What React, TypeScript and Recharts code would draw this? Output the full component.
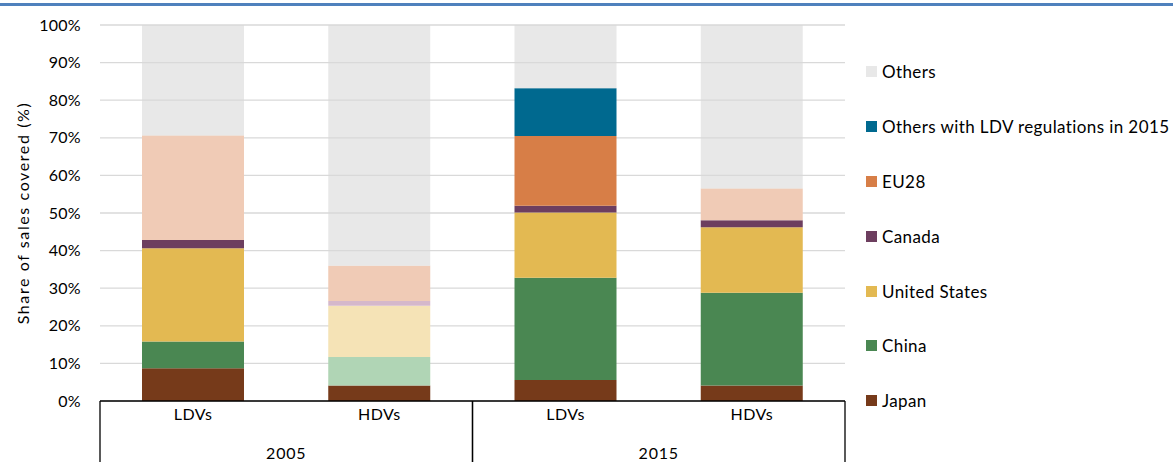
import React from "react";
import { Bar, BarChart, CartesianGrid, Cell, Legend, XAxis, YAxis } from "recharts";

const categories = ["LDVs", "HDVs", "LDVs", "HDVs"];
const years = ["2005", "2005", "2015", "2015"];

// share of sales covered (%), per bar
const japan = [8.7, 4.1, 5.6, 4.1];
const china = [7.1, 7.6, 27.2, 24.7];
const unitedStates = [24.8, 13.6, 17.3, 17.4];
const canada = [2.2, 1.3, 1.8, 1.9];
const eu28 = [27.8, 9.4, 18.6, 8.4];
const othersLdv = [0, 0, 12.7, 0];
const others = [29.4, 64.0, 16.8, 43.5];

const yTicks = [0, 10, 20, 30, 40, 50, 60, 70, 80, 90, 100];

const series = [
  { key: "japan", name: "Japan", values: japan, color: "#763A1A", faded: "#763A1A" },
  { key: "china", name: "China", values: china, color: "#4A8752", faded: "#B0D5B5" },
  { key: "us", name: "United States", values: unitedStates, color: "#E3B952", faded: "#F5E3B6" },
  { key: "canada", name: "Canada", values: canada, color: "#6D3E5F", faded: "#D5B8CB" },
  { key: "eu28", name: "EU28", values: eu28, color: "#D77E47", faded: "#F0CBB6" },
  { key: "othersLdv", name: "Others with LDV regulations in 2015", values: othersLdv, color: "#00698F", faded: "#00698F" },
  { key: "others", name: "Others", values: others, color: "#D9D9D9", faded: "#D9D9D9" },
];

// which bars (by index) are drawn in the lighter tint
const fadedBars: Record<string, number[]> = {
  china: [1],
  us: [1],
  canada: [1],
  eu28: [0, 1, 3],
};

const data = categories.map((type, i) => {
  const row: Record<string, string | number> = { type, year: years[i] };
  series.forEach((s) => {
    row[s.key] = s.values[i];
  });
  return row;
});

const FONT = "Lato, 'Noto Sans', sans-serif";
const CHART_W = 1173;
const CHART_H = 480;
const PLOT_LEFT = 100;
const PLOT_RIGHT = 845;
const PLOT_BOTTOM = 401;
const HALF_YEAR = (PLOT_RIGHT - PLOT_LEFT) / 4;

const YearTick = (props: any) => {
  const { x, y, payload } = props;
  return (
    <g>
      <text
        x={x}
        y={y + 17}
        textAnchor="middle"
        dominantBaseline="central"
        fontSize={16}
        letterSpacing={0.8}
        fontFamily={FONT}
        fill="#000"
      >
        {payload.value}
      </text>
      <line x1={x - HALF_YEAR} x2={x - HALF_YEAR} y1={PLOT_BOTTOM} y2={CHART_H} stroke="#000" strokeWidth={1.3} />
      <line x1={x + HALF_YEAR} x2={x + HALF_YEAR} y1={PLOT_BOTTOM} y2={CHART_H} stroke="#000" strokeWidth={1.3} />
    </g>
  );
};

const LegendBox = () => (
  <div style={{ fontFamily: FONT, fontSize: 17, letterSpacing: 0.4, color: "#000", paddingTop: 44.6 }}>
    {[...series].reverse().map((s) => (
      <div key={s.key} style={{ height: 54.8, display: "flex", alignItems: "center", whiteSpace: "nowrap" }}>
        <span
          style={{
            display: "inline-block",
            width: 11,
            height: 11,
            marginRight: 5,
            background: s.key === "others" ? "#E8E8E8" : s.color,
          }}
        />
        {s.name}
      </div>
    ))}
  </div>
);

export default function App() {
  return (
    <div style={{ position: "absolute", top: 0, left: 0, width: CHART_W, height: 462, overflow: "hidden", background: "#fff" }}>
      <div style={{ position: "absolute", top: 3, left: 0, width: CHART_W, height: 3, background: "#4F81BD" }} />
      <BarChart
        width={CHART_W}
        height={CHART_H}
        data={data}
        margin={{ top: 25, right: 21, bottom: 9, left: 0 }}
        barSize={102}
      >
        <CartesianGrid vertical={false} stroke="#D9D9D9" strokeWidth={1.3} />
        <XAxis
          dataKey="type"
          xAxisId="type"
          height={34}
          tickLine={false}
          tickSize={0}
          tickMargin={8}
          axisLine={{ stroke: "#000", strokeWidth: 1.3 }}
          tick={{ fontSize: 16, letterSpacing: 0.5, fontFamily: FONT, fill: "#000" }}
        />
        <XAxis
          dataKey="year"
          xAxisId="year"
          allowDuplicatedCategory={false}
          height={36}
          tickLine={false}
          tickSize={0}
          tickMargin={0}
          axisLine={false}
          tick={<YearTick />}
        />
        <YAxis
          width={100}
          domain={[0, 100]}
          ticks={yTicks}
          tickFormatter={(v) => `${v}%`}
          axisLine={false}
          tickLine={false}
          tickSize={0}
          tickMargin={19}
          tick={{ fontSize: 16, letterSpacing: 0.3, fontFamily: FONT, fill: "#000" }}
          label={{
            content: ({ viewBox }: any) => {
              const cy = viewBox.y + viewBox.height / 2;
              return (
                <text
                  x={22}
                  y={cy}
                  transform={`rotate(-90 22 ${cy})`}
                  textAnchor="middle"
                  dominantBaseline="central"
                  fontSize={16}
                  letterSpacing={1.6}
                  fontFamily={FONT}
                  fill="#000"
                >
                  Share of sales covered (%)
                </text>
              );
            },
          }}
        />
        <Legend
          layout="vertical"
          align="right"
          verticalAlign="top"
          content={<LegendBox />}
          wrapperStyle={{ left: 866, right: "auto", top: 0, width: 307 }}
        />
        {series.map((s) => (
          <Bar
            key={s.key}
            dataKey={s.key}
            name={s.name}
            stackId="a"
            xAxisId="type"
            fill={s.color}
            fillOpacity={s.key === "others" ? 0.6 : 1}
            isAnimationActive={false}
          >
            {data.map((_, i) => (
              <Cell key={i} fill={(fadedBars[s.key] || []).includes(i) ? s.faded : s.color} />
            ))}
          </Bar>
        ))}
      </BarChart>
    </div>
  );
}
